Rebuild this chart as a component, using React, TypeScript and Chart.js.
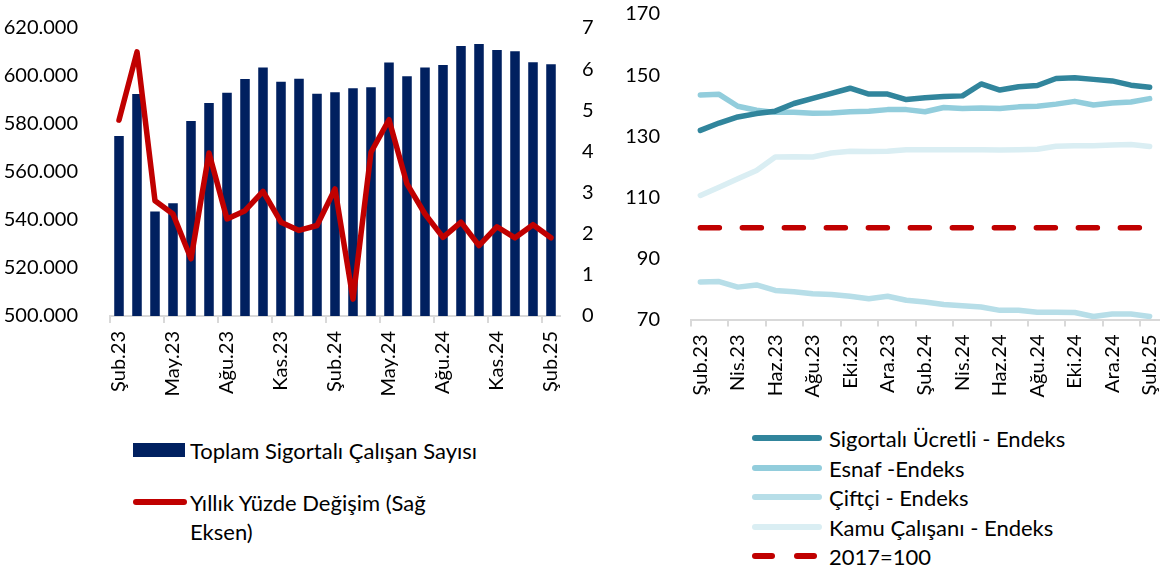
import React, { useEffect, useRef } from 'react';
import { Chart, registerables } from 'chart.js';
Chart.register(...registerables);

const FONT = 'Lato';

const months = ['Şub.23','Mar.23','Nis.23','May.23','Haz.23','Tem.23','Ağu.23','Eyl.23','Eki.23','Kas.23','Ara.23','Oca.24','Şub.24','Mar.24','Nis.24','May.24','Haz.24','Tem.24','Ağu.24','Eyl.24','Eki.24','Kas.24','Ara.24','Oca.25','Şub.25'];

const totalInsured = [575000, 592500, 543500, 547000, 581300, 588800, 593000, 598800, 603500, 597600, 598900, 592600, 593200, 594900, 595300, 605600, 599900, 603500, 604600, 612500, 613300, 610800, 610300, 605700, 604900];
const yearlyChange = [4.76, 6.42, 2.80, 2.48, 1.39, 3.96, 2.36, 2.56, 3.03, 2.28, 2.08, 2.20, 3.09, 0.41, 3.98, 4.77, 3.21, 2.48, 1.91, 2.28, 1.71, 2.17, 1.90, 2.22, 1.90];

const ucretli = [131.9, 134.3, 136.3, 137.4, 138.2, 140.7, 142.4, 144.0, 145.7, 143.8, 143.8, 142.0, 142.6, 143.0, 143.2, 147.1, 145.1, 146.2, 146.6, 148.9, 149.1, 148.6, 148.1, 146.7, 146.0];
const esnaf = [143.5, 143.7, 139.8, 138.5, 137.8, 137.8, 137.5, 137.6, 138.0, 138.2, 138.7, 138.7, 138.0, 139.4, 139.1, 139.2, 139.1, 139.6, 139.8, 140.5, 141.4, 140.2, 140.9, 141.2, 142.3];
const ciftci = [82.3, 82.4, 80.6, 81.3, 79.5, 79.1, 78.4, 78.2, 77.6, 76.8, 77.6, 76.3, 75.7, 74.9, 74.5, 74.1, 73.0, 73.0, 72.4, 72.4, 72.3, 71.0, 71.8, 71.8, 71.0];
const kamu = [110.6, 113.3, 116.1, 118.8, 123.2, 123.3, 123.2, 124.5, 125.1, 125.0, 125.1, 125.6, 125.6, 125.6, 125.6, 125.6, 125.5, 125.6, 125.7, 126.7, 126.9, 126.9, 127.1, 127.3, 126.6];
const base2017 = [100, 100, 100, 100, 100, 100, 100, 100, 100, 100, 100, 100, 100, 100, 100, 100, 100, 100, 100, 100, 100, 100, 100, 100, 100];

const leftTicks = [500000, 520000, 540000, 560000, 580000, 600000, 620000];
const rightTicks = [0, 1, 2, 3, 4, 5, 6, 7];
const indexTicks = [70, 90, 110, 130, 150, 170];

const NAVY = '#002060';
const RED = '#C00000';
const C_UCRETLI = '#31859C';
const C_ESNAF = '#92CDDC';
const C_CIFTCI = '#B7DEE8';
const C_KAMU = '#DAEEF3';
const AXIS = '#D9D9D9';
const TXT = '#000000';
const TICK_SIZE = 20;

function fmtThousands(v: number) {
  return String(Math.round(v / 1000)) + '.000';
}

function noVPad(axis: any, width: number) {
  axis.width = width;
  axis.paddingTop = 0;
  axis.paddingBottom = 0;
}

function xAxis(step: number, height: number) {
  const gridColor = (ctx: any) => (ctx.index % step === 0 && ctx.index < months.length ? AXIS : 'rgba(0,0,0,0)');
  return {
    type: 'category' as const,
    offset: true,
    grid: {
      display: true,
      offset: true,
      drawOnChartArea: false,
      drawTicks: true,
      tickLength: 7,
      lineWidth: 2,
      color: gridColor,
      tickColor: gridColor,
    },
    border: { display: true, color: AXIS, width: 2 },
    ticks: {
      autoSkip: false,
      minRotation: 90,
      maxRotation: 90,
      padding: 8,
      color: TXT,
      font: { family: FONT, size: TICK_SIZE },
      callback: (_v: any, i: number) => (i % step === 0 ? months[i] : ''),
    },
    afterFit: (axis: any) => {
      axis.height = height;
      axis.paddingLeft = 0;
      axis.paddingRight = 0;
    },
  };
}

function LeftChart() {
  const ref = useRef<HTMLCanvasElement>(null);
  useEffect(() => {
    const chart = new Chart(ref.current!, {
      type: 'bar',
      data: {
        labels: months,
        datasets: [
          {
            type: 'line',
            label: 'Yıllık Yüzde Değişim (Sağ Eksen)',
            data: yearlyChange,
            yAxisID: 'y1',
            borderColor: RED,
            backgroundColor: RED,
            borderWidth: 5.5,
            pointRadius: 0,
            tension: 0,
            borderJoinStyle: 'round',
            borderCapStyle: 'round',
            order: 1,
          } as any,
          {
            type: 'bar',
            label: 'Toplam Sigortalı Çalışan Sayısı',
            data: totalInsured,
            yAxisID: 'y',
            backgroundColor: NAVY,
            borderWidth: 0,
            barPercentage: 0.53,
            categoryPercentage: 1,
            order: 2,
          },
        ],
      },
      options: {
        responsive: false,
        animation: false,
        events: [],
        layout: { padding: { top: 28, left: 0, right: 0, bottom: 0 } },
        plugins: { legend: { display: false }, tooltip: { enabled: false } },
        scales: {
          x: xAxis(3, 104) as any,
          y: {
            position: 'left',
            min: 500000,
            max: 620000,
            afterBuildTicks: (axis: any) => { axis.ticks = leftTicks.map((v) => ({ value: v })); },
            grid: { display: false },
            border: { display: false },
            ticks: {
              padding: 24,
              color: TXT,
              font: { family: FONT, size: TICK_SIZE },
              callback: (v: any) => fmtThousands(Number(v)),
            },
            afterFit: (axis: any) => noVPad(axis, 110),
          },
          y1: {
            position: 'right',
            min: 0,
            max: 7,
            afterBuildTicks: (axis: any) => { axis.ticks = rightTicks.map((v) => ({ value: v })); },
            grid: { display: false },
            border: { display: false },
            ticks: {
              padding: 14,
              color: TXT,
              font: { family: FONT, size: TICK_SIZE },
            },
            afterFit: (axis: any) => noVPad(axis, 40),
          },
        },
      },
    });
    return () => chart.destroy();
  }, []);
  return <canvas ref={ref} width={600} height={420} style={{ position: 'absolute', left: 0, top: 0, width: 600, height: 420 }} />;
}

function RightChart() {
  const ref = useRef<HTMLCanvasElement>(null);
  useEffect(() => {
    const common = { pointRadius: 0, tension: 0, borderWidth: 5.5, fill: false, borderCapStyle: 'round', borderJoinStyle: 'round' };
    const chart = new Chart(ref.current!, {
      type: 'line',
      data: {
        labels: months,
        datasets: [
          { label: 'Sigortalı Ücretli - Endeks', data: ucretli, borderColor: C_UCRETLI, backgroundColor: C_UCRETLI, ...common } as any,
          { label: 'Esnaf -Endeks', data: esnaf, borderColor: C_ESNAF, backgroundColor: C_ESNAF, ...common } as any,
          { label: 'Çiftçi - Endeks', data: ciftci, borderColor: C_CIFTCI, backgroundColor: C_CIFTCI, ...common } as any,
          { label: 'Kamu Çalışanı - Endeks', data: kamu, borderColor: C_KAMU, backgroundColor: C_KAMU, ...common } as any,
          { label: '2017=100', data: base2017, borderColor: RED, backgroundColor: RED, ...common, borderDash: [19, 23] } as any,
        ],
      },
      options: {
        responsive: false,
        animation: false,
        events: [],
        layout: { padding: { top: 14, left: 0, right: 2, bottom: 0 } },
        plugins: { legend: { display: false }, tooltip: { enabled: false } },
        scales: {
          x: xAxis(2, 100.5) as any,
          y: {
            position: 'left',
            min: 70,
            max: 170,
            afterBuildTicks: (axis: any) => { axis.ticks = indexTicks.map((v) => ({ value: v })); },
            grid: { display: false },
            border: { display: false },
            ticks: {
              padding: 23,
              color: TXT,
              font: { family: FONT, size: TICK_SIZE },
            },
            afterFit: (axis: any) => noVPad(axis, 81),
          },
        },
      },
    });
    return () => chart.destroy();
  }, []);
  return <canvas ref={ref} width={551} height={420} style={{ position: 'absolute', left: 610, top: 0, width: 551, height: 420 }} />;
}

const textStyle: React.CSSProperties = {
  position: 'absolute',
  fontFamily: FONT,
  fontSize: 22,
  lineHeight: '29px',
  color: TXT,
  whiteSpace: 'nowrap',
};

function LineSwatch({ x, y, w, color }: { x: number; y: number; w: number; color: string }) {
  return <div style={{ position: 'absolute', left: x, top: y - 2.75, width: w, height: 5.5, borderRadius: 3, background: color }} />;
}

const rightLegend = [
  { label: 'Sigortalı Ücretli - Endeks', color: C_UCRETLI, y: 438 },
  { label: 'Esnaf -Endeks', color: C_ESNAF, y: 468 },
  { label: 'Çiftçi - Endeks', color: C_CIFTCI, y: 497 },
  { label: 'Kamu Çalışanı - Endeks', color: C_KAMU, y: 527 },
];

export default function App() {
  return (
    <div style={{ position: 'absolute', left: 0, top: 0, width: 1161, height: 571, background: '#fff', overflow: 'hidden' }}>
      <LeftChart />
      <RightChart />
      {/* left legend */}
      <div style={{ position: 'absolute', left: 133, top: 443, width: 52, height: 14, background: NAVY }} />
      <div style={{ ...textStyle, left: 190, top: 450 - 14.5 }}>Toplam Sigortalı Çalışan Sayısı</div>
      <LineSwatch x={133} y={502} w={54} color={RED} />
      <div style={{ ...textStyle, left: 190, top: 502 - 14.5, whiteSpace: 'normal', width: 275 }}>Yıllık Yüzde Değişim (Sağ Eksen)</div>
      {/* right legend */}
      {rightLegend.map((r) => (
        <React.Fragment key={r.label}>
          <LineSwatch x={752} y={r.y} w={70} color={r.color} />
          <div style={{ ...textStyle, left: 829, top: r.y - 14.5 }}>{r.label}</div>
        </React.Fragment>
      ))}
      <LineSwatch x={752} y={556} w={23} color={RED} />
      <LineSwatch x={794} y={556} w={23} color={RED} />
      <div style={{ ...textStyle, left: 829, top: 556 - 14.5 }}>2017=100</div>
    </div>
  );
}
